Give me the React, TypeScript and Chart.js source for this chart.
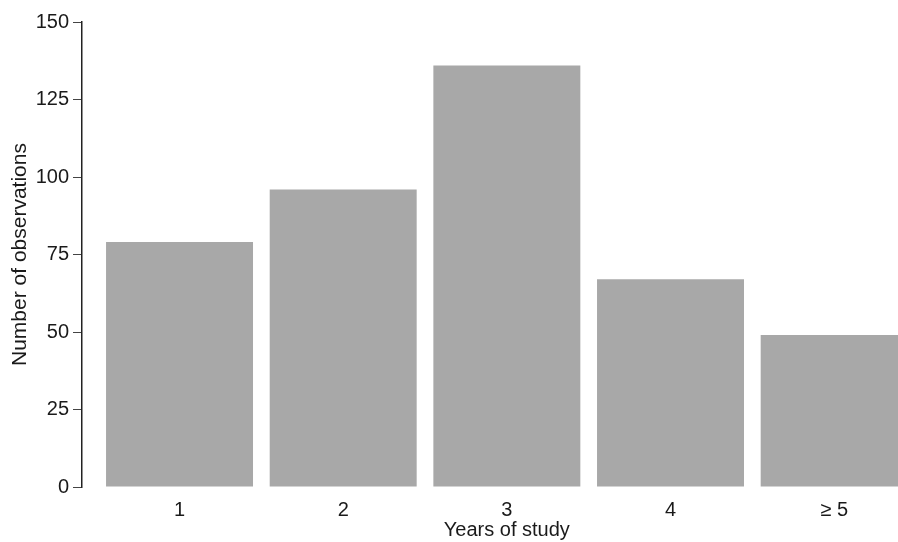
import React, { useEffect, useRef } from "react";
import { Chart, registerables } from "chart.js";

Chart.register(...registerables);

const categories = ["1", "2", "3", "4", "≥ 5"];
const observations = [79, 96, 136, 67, 49];
const yMin = 0;
const yMax = 150;
const yStep = 25;
const xTitle = "Years of study";
const yTitle = "Number of observations";

const FONT = "'Liberation Sans', Arial, Helvetica, sans-serif";
const CANVAS_W = 920;
const CANVAS_H = 542;
const AXIS_X = 82;
const PLOT_BOTTOM = 487;
const X_GAP = 15.7;

const shiftXPlugin = {
  id: "shiftX",
  afterLayout(chart: any) {
    const x = chart.scales.x;
    x.left = chart.chartArea.left + X_GAP;
    x.width = x.right - x.left;
    x.configure();
  },
};

export default function App() {
  const ref = useRef<HTMLCanvasElement | null>(null);

  useEffect(() => {
    if (!ref.current) return;
    const chart = new Chart(ref.current, {
      type: "bar",
      data: {
        labels: categories,
        datasets: [
          {
            data: observations,
            backgroundColor: "#a8a8a8",
            borderWidth: 0,
            barPercentage: 0.898,
            categoryPercentage: 1,
          },
        ],
      },
      plugins: [shiftXPlugin],
      options: {
        responsive: false,
        animation: false,
        devicePixelRatio: 1,
        layout: { padding: { top: 22, right: 4, bottom: 0, left: 0 } },
        plugins: {
          legend: { display: false },
          tooltip: { enabled: false },
        },
        scales: {
          x: {
            type: "category",
            offset: true,
            grid: { display: false, drawTicks: false },
            border: { display: false },
            ticks: {
              color: "#1a1a1a",
              font: { family: FONT, size: 20 },
              padding: 11,
              maxRotation: 0,
            },
            title: {
              display: true,
              text: xTitle,
              color: "#1a1a1a",
              font: { family: FONT, size: 20 },
              padding: { top: 0, bottom: 0 },
            },
            afterFit(scale: any) {
              scale.height = CANVAS_H - PLOT_BOTTOM;
            },
          },
          y: {
            min: yMin,
            max: yMax,
            grid: {
              display: true,
              drawOnChartArea: false,
              drawTicks: true,
              tickLength: 9,
              color: "#444",
              lineWidth: 1,
            },
            border: { display: true, color: "#222", width: 1.5 },
            ticks: {
              stepSize: yStep,
              color: "#1a1a1a",
              font: { family: FONT, size: 20 },
              padding: 4,
            },
            title: {
              display: true,
              text: yTitle,
              color: "#1a1a1a",
              font: { family: FONT, size: 21 },
              padding: { top: 8, bottom: 0 },
            },
            afterFit(scale: any) {
              scale.width = AXIS_X;
            },
          },
        },
      },
    });
    return () => chart.destroy();
  }, []);

  return (
    <div
      style={{
        position: "fixed",
        left: 0,
        top: 0,
        width: 898,
        height: 542,
        overflow: "hidden",
        background: "#ffffff",
      }}
    >
      <canvas
        ref={ref}
        width={CANVAS_W}
        height={CANVAS_H}
        style={{ display: "block", width: CANVAS_W, height: CANVAS_H }}
      />
    </div>
  );
}
